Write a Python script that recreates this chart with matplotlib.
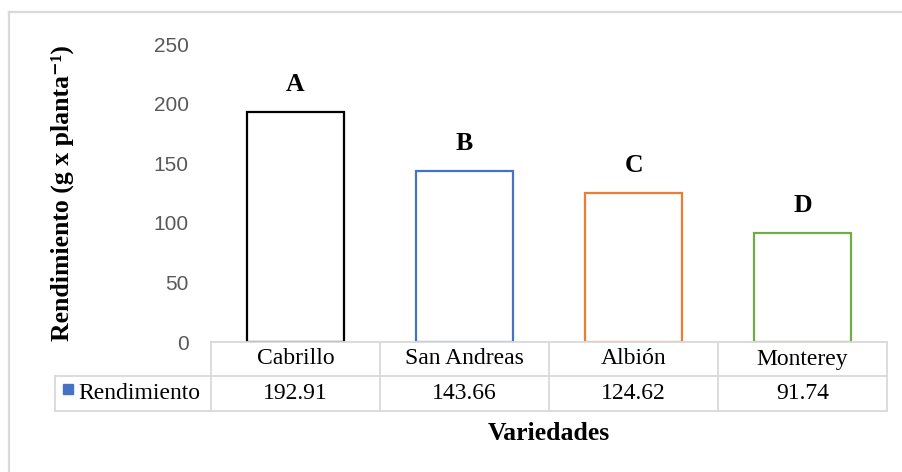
import matplotlib.pyplot as plt
from matplotlib.lines import Line2D
from matplotlib.patches import Rectangle

# datos
variedades = ['Cabrillo', 'San Andreas', 'Albión', 'Monterey']
rendimiento = [192.91, 143.66, 124.62, 91.74]
letras = ['A', 'B', 'C', 'D']
serie = 'Rendimiento'
colores = ['#000000', '#4472C4', '#ED7D31', '#70AD47']
yticks = [0, 50, 100, 150, 200, 250]

W, H = 902, 472
fig = plt.figure(figsize=(W / 100, H / 100), dpi=100)

def fx(px):
    return px / W

def fy(py):
    return 1 - py / H

grid = '#D9D9D9'
serif = ['Liberation Serif', 'DejaVu Serif']

# marco del grafico
fig.add_artist(Line2D([fx(9), fx(9)], [fy(12), 0], color=grid, lw=1.6))
fig.add_artist(Line2D([fx(9), 1], [fy(12), fy(12)], color=grid, lw=1.6))

x0, x1, ytop, ybase = 211, 887, 44, 342
ax = fig.add_axes([fx(x0), fy(ybase), fx(x1 - x0), fy(ytop) - fy(ybase)])
n = len(variedades)
pos = list(range(n))
ax.bar(pos, rendimiento, width=0.575, facecolor='white', edgecolor=colores, linewidth=1.6, zorder=3)
for p, v, l in zip(pos, rendimiento, letras):
    ax.annotate(l, (p, v), xytext=(0, 16), textcoords='offset pixels', ha='center', va='bottom',
                fontsize=18.5, fontweight='bold', family=serif)
ax.set_xlim(-0.5, n - 0.5)
ax.set_ylim(0, 250)
ax.set_yticks(yticks)
ax.set_xticks([])
ax.tick_params(axis='y', length=0, pad=16, labelsize=15, labelcolor='#595959')
for lab in ax.get_yticklabels():
    lab.set_family('Liberation Sans')
for s in ax.spines.values():
    s.set_visible(False)

ax.set_ylabel('Rendimiento (g x planta⁻¹)', fontsize=18.5, fontweight='bold', family=serif)
ax.yaxis.set_label_coords((74 - x0) / (x1 - x0), 0.5)

# tabla de datos
col_w = (x1 - x0) / n
y_r1, y_r2, lab_x = 376, 411, 55
lw = 1.3
fig.add_artist(Line2D([fx(x0), fx(x1)], [fy(ybase), fy(ybase)], color=grid, lw=lw, zorder=1))
fig.add_artist(Line2D([fx(lab_x), fx(x1)], [fy(y_r1), fy(y_r1)], color=grid, lw=lw))
fig.add_artist(Line2D([fx(lab_x), fx(x1)], [fy(y_r2), fy(y_r2)], color=grid, lw=lw))
fig.add_artist(Line2D([fx(lab_x), fx(lab_x)], [fy(y_r1), fy(y_r2)], color=grid, lw=lw))
for i in range(n + 1):
    xx = x0 + i * col_w
    fig.add_artist(Line2D([fx(xx), fx(xx)], [fy(ybase), fy(y_r2)], color=grid, lw=lw))
for i, (v, r) in enumerate(zip(variedades, rendimiento)):
    cx = x0 + (i + 0.5) * col_w
    fig.text(fx(cx), fy((ybase + y_r1) / 2), v, ha='center', va='center', fontsize=17, family=serif)
    fig.text(fx(cx), fy((y_r1 + y_r2) / 2), f'{r:.2f}', ha='center', va='center', fontsize=17, family=serif)
fig.add_artist(Rectangle((fx(63), fy(394)), fx(10), fy(384) - fy(394), color=colores[1]))
fig.text(fx(78), fy((y_r1 + y_r2) / 2), serie, ha='left', va='center', fontsize=17, family=serif)

fig.text(fx((x0 + x1) / 2), fy(434), 'Variedades', ha='center', va='center', fontsize=18.5,
         fontweight='bold', family=serif)

fig.savefig('out.png', dpi=100)
